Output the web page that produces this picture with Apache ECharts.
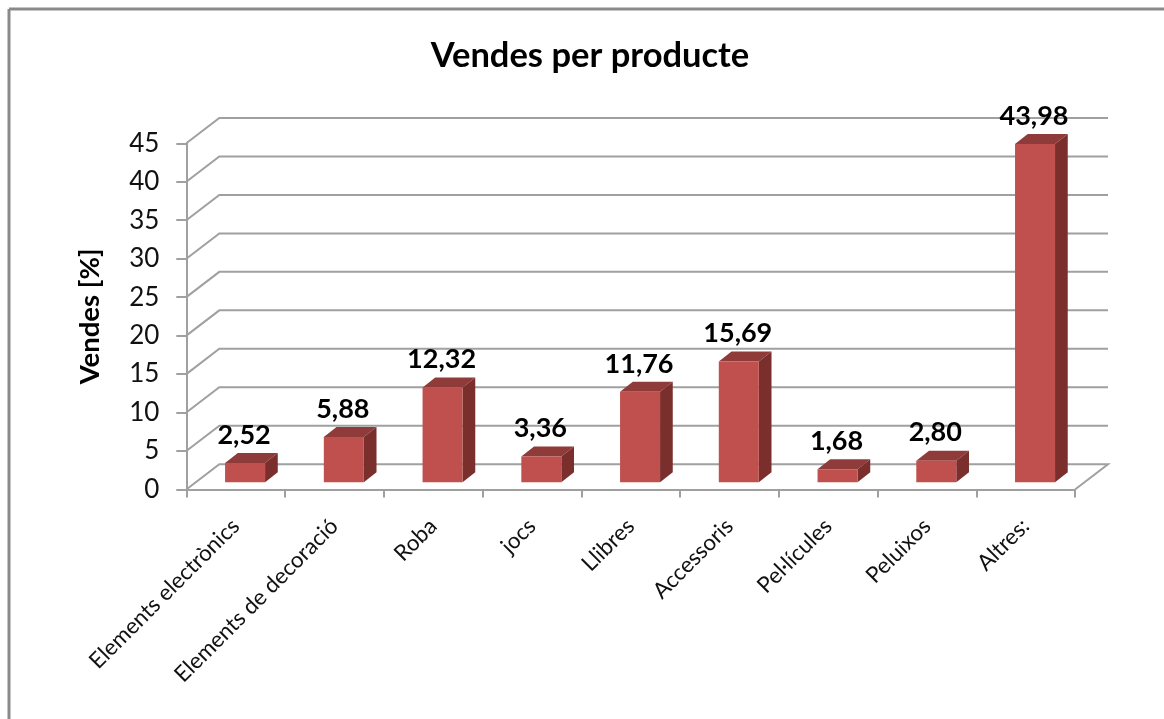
<!DOCTYPE html>
<html>
<head>
<meta charset="utf-8">
<style>html,body{margin:0;padding:0;background:#fff}#c{width:1164px;height:719px}</style>
<script src="https://cdn.jsdelivr.net/npm/echarts@6/dist/echarts.min.js"></script>
</head>
<body>
<div id="c"></div>
<script>
const categories = ['Elements electrònics','Elements de decoració','Roba','jocs','Llibres','Accessoris','Pel·lícules','Peluixos','Altres:'];
const values = [2.52,5.88,12.32,3.36,11.76,15.69,1.68,2.80,43.98];
const gridValues = [0,5,10,15,20,25,30,35,40,45];
const titleText = 'Vendes per producte';
const yName = 'Vendes [%]';

const FONT = 'Lato, Carlito, sans-serif';
const GRID = '#a0a0a0';
const DX = 33, DY = 25.3;         // depth of the floor
const BAR_W = 40, BAR_DX = 12.7, BAR_DY = 10, BAR_NEAR = 0.285;

const chart = echarts.init(document.getElementById('c'), null, {renderer:'canvas'});
chart.setOption({
  animation:false,
  backgroundColor:'#fff',
  title:{text:titleText,left:585,top:33,textAlign:'center',
    textStyle:{fontFamily:FONT,fontSize:34.5,fontWeight:'bold',color:'#000'}},
  graphic:[
    {type:'line',silent:true,shape:{x1:9,y1:9,x2:1164,y2:9},style:{stroke:'#8a8a8a',lineWidth:3}},
    {type:'line',silent:true,shape:{x1:9,y1:9,x2:9,y2:719},style:{stroke:'#8a8a8a',lineWidth:3}}
  ],
  grid:{left:186.3,right:89,top:143.3,bottom:229.5,containLabel:false},
  xAxis:{type:'category',data:categories,boundaryGap:true,
    axisLine:{show:true,lineStyle:{color:GRID,width:2}},
    axisTick:{show:true,alignWithLabel:false,length:8,lineStyle:{color:GRID,width:2}},
    axisLabel:{rotate:45,interval:0,margin:33,fontFamily:FONT,fontSize:22.3,color:'#111'}},
  yAxis:{type:'value',min:0,max:45,interval:5,name:yName,nameLocation:'middle',nameGap:82,nameRotate:90,
    nameTextStyle:{fontFamily:FONT,fontSize:27.5,fontWeight:'bold',color:'#000'},
    axisLine:{show:true,lineStyle:{color:GRID,width:2}},
    axisTick:{show:true,length:10,lineStyle:{color:GRID,width:2}},
    splitLine:{show:false},
    axisLabel:{margin:27,fontFamily:FONT,fontSize:26,color:'#111'}},
  series:[
    {type:'custom',silent:true,clip:false,z:1,
     coordinateSystem:'cartesian2d',
     data:gridValues.map(v=>[0,v]),
     encode:{x:0,y:1},
     renderItem(params,api){
       const r=params.coordSys, y=api.coord([0,api.value(1)])[1];
       const pts=[[r.x,y],[r.x+DX,y-DY],[r.x+r.width+DX,y-DY]];
       if(api.value(1)===0) pts.push([r.x+r.width,y]);
       return {type:'polyline',shape:{points:pts},style:{fill:null,stroke:GRID,lineWidth:2}};
     }},
    {type:'custom',silent:true,clip:false,z:2,
     coordinateSystem:'cartesian2d',
     data:values.map((v,i)=>[i,v]),
     encode:{x:0,y:1},
     renderItem(params,api){
       const i=api.value(0), v=api.value(1);
       const cx=api.coord([i,0])[0]+DX*BAR_NEAR;
       const oy=DY*BAR_NEAR;
       const y0=api.coord([i,0])[1]-oy, y1=api.coord([i,v])[1]-oy;
       const l=cx-BAR_W/2, r=cx+BAR_W/2;
       return {type:'group',children:[
         {type:'polygon',shape:{points:[[l,y1],[r,y1],[r+BAR_DX,y1-BAR_DY],[l+BAR_DX,y1-BAR_DY]]},style:{fill:'#8f3b39'}},
         {type:'polygon',shape:{points:[[r,y1],[r+BAR_DX,y1-BAR_DY],[r+BAR_DX,y0-BAR_DY],[r,y0]]},style:{fill:'#7a2f2d'}},
         {type:'rect',shape:{x:l,y:y1,width:BAR_W,height:y0-y1},style:{fill:'#c0504d'}},
         {type:'text',z2:10,style:{x:cx-1,y:y1-BAR_DY-18,text:v.toFixed(2).replace('.',','),
           align:'center',verticalAlign:'middle',fontFamily:FONT,fontSize:27,fontWeight:'bold',fill:'#000'}}
       ]};
     }}
  ]
});
</script>
</body>
</html>
